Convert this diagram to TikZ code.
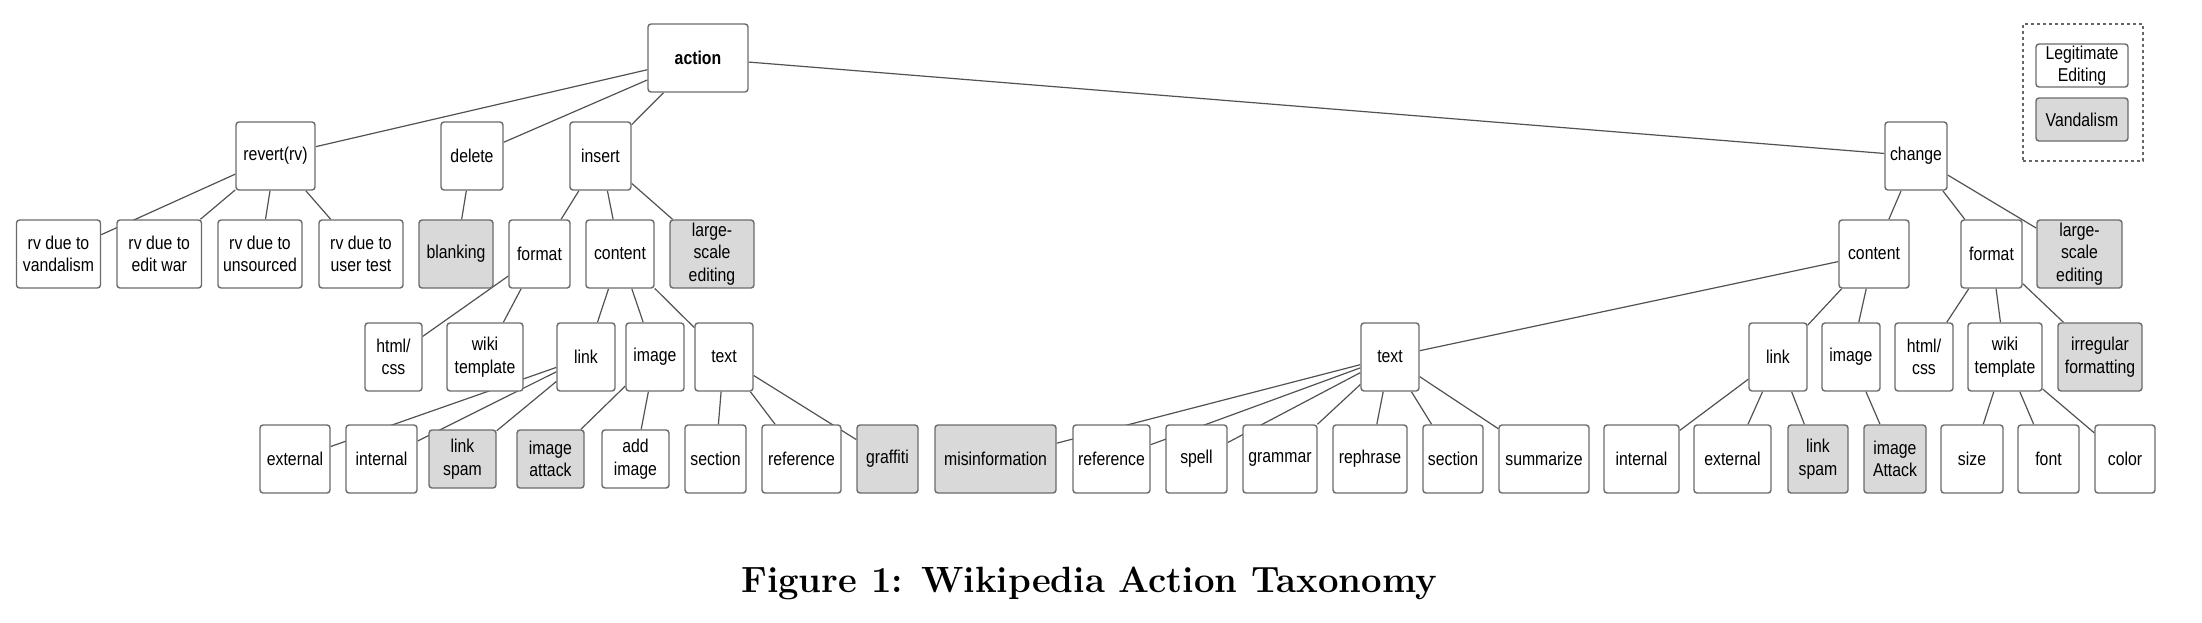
\documentclass[tikz,border=0pt]{standalone}
\usepackage{fontspec}
\newfontfamily\nodefont[FakeStretch=0.85]{Liberation Sans}
\usetikzlibrary{backgrounds}
\newcommand\tbox[7]{\node[#1, minimum width={(#4-#3)*0.5pt}, minimum height={(#6-#5)*0.5pt}] (#2) at ({(#3+#4)/2},{(#5+#6)/2}) {#7};}
\begin{document}
\begin{tikzpicture}[x=0.5pt,y=-0.5pt,
  box/.style={draw=black!58, line width=0.7pt, rounded corners=1.5pt, fill=white, inner sep=0pt, align=center,
    font=\nodefont\fontsize{9.3}{11.3}\selectfont},
  vbox/.style={box, fill=black!15},
  edge/.style={draw=black!68, line width=0.6pt},
  legendframe/.style={draw=black!60, line width=0.6pt, dash pattern=on 1.6pt off 1.4pt, inner sep=0pt}]
\useasboundingbox (0,0) rectangle (2202,622);
% level 0
\tbox{box,font=\nodefont\fontsize{9.3}{11.3}\selectfont\bfseries}{action}{648}{748}{24}{92}{action}
% level 1
\tbox{box}{revert}{236}{315}{122}{190}{revert(rv)}
\tbox{box}{delete}{441}{503}{122}{190}{delete}
\tbox{box}{insert}{570}{631}{122}{190}{insert}
\tbox{box}{change}{1885}{1947}{122}{190}{change}
% level 2
\tbox{box}{rvvand}{16.5}{100.5}{220}{288}{rv due to\\vandalism}
\tbox{box}{rvedit}{117}{201.5}{220}{288}{rv due to\\edit war}
\tbox{box}{rvuns}{218}{302}{220}{288}{rv due to\\unsourced}
\tbox{box}{rvuser}{319}{403}{220}{288}{rv due to\\user test}
\tbox{vbox}{blanking}{419}{493}{220}{288}{blanking}
\tbox{box}{format}{509}{570}{220}{288}{format}
\tbox{box}{content}{586}{654}{220}{288}{content}
\tbox{vbox}{lse}{670}{754}{220}{288}{large-\\scale\\editing}
\tbox{box}{contentB}{1839}{1909}{220}{288}{content}
\tbox{box}{formatB}{1961}{2022}{220}{288}{format}
\tbox{vbox}{lseB}{2037}{2122}{220}{288}{large-\\scale\\editing}
% level 3
\tbox{box}{html}{365}{422}{323}{391}{html/\\css}
\tbox{box}{wiki}{447}{523}{323}{391}{wiki\\template}
\tbox{box}{link}{557}{615}{323}{391}{link}
\tbox{box}{image}{626}{684}{323}{391}{image}
\tbox{box}{text}{695}{753}{323}{391}{text}
\tbox{box}{textB}{1361}{1419}{323}{391}{text}
\tbox{box}{linkB}{1749}{1807}{323}{391}{link}
\tbox{box}{imageB}{1822}{1880}{323}{391}{image}
\tbox{box}{htmlB}{1895}{1953}{323}{391}{html/\\css}
\tbox{box}{wikiB}{1968}{2042}{323}{391}{wiki\\template}
\tbox{vbox}{irreg}{2058}{2142}{323}{391}{irregular\\formatting}
% level 4
\tbox{box}{external}{260}{330}{425}{493}{external}
\tbox{box}{internal}{346}{417}{425}{493}{internal}
\tbox{vbox}{linkspam}{429}{496}{430}{488}{link\\spam}
\tbox{vbox}{imgattack}{517}{584}{430}{488}{image\\attack}
\tbox{box}{addimage}{602}{669}{430}{488}{add\\image}
\tbox{box}{section}{685}{746}{425}{493}{section}
\tbox{box}{reference}{762}{841}{425}{493}{reference}
\tbox{vbox}{graffiti}{857}{918}{425}{493}{graffiti}
\tbox{vbox}{misinfo}{935}{1056}{425}{493}{misinformation}
\tbox{box}{referenceB}{1073}{1150}{425}{493}{reference}
\tbox{box}{spell}{1166}{1227}{425}{493}{spell}
\tbox{box}{grammar}{1243}{1317}{425}{493}{grammar}
\tbox{box}{rephrase}{1333}{1407}{425}{493}{rephrase}
\tbox{box}{sectionB}{1423}{1483}{425}{493}{section}
\tbox{box}{summarize}{1499}{1589}{425}{493}{summarize}
\tbox{box}{internalB}{1604}{1679}{425}{493}{internal}
\tbox{box}{externalB}{1694}{1771}{425}{493}{external}
\tbox{vbox}{linkspamB}{1788}{1848}{425}{493}{link\\spam}
\tbox{vbox}{imgattackB}{1864}{1926}{425}{493}{image\\Attack}
\tbox{box}{size}{1941}{2003}{425}{493}{size}
\tbox{box}{font}{2018}{2079}{425}{493}{font}
\tbox{box}{color}{2095}{2155}{425}{493}{color}
% legend
\tbox{legendframe}{legend}{2023}{2143}{24}{161}{}
\tbox{box}{legit}{2036}{2128}{44}{87}{Legitimate\\Editing}
\tbox{vbox}{vandal}{2036}{2128}{98}{141}{Vandalism}
% caption
\node[anchor=base, inner sep=0pt, font=\fontsize{18.25}{22}\selectfont\bfseries] (caption) at (1089,592) {Figure 1: Wikipedia Action Taxonomy};
% edges
\begin{pgfonlayer}{background}
\foreach \p/\c in {action/revert, action/delete, action/insert, action/change,
  revert/rvvand, revert/rvedit, revert/rvuns, revert/rvuser,
  delete/blanking, insert/format, insert/content, insert/lse,
  format/html, format/wiki, content/link, content/image, content/text,
  link/external, link/internal, link/linkspam, image/imgattack, image/addimage,
  text/section, text/reference, text/graffiti,
  change/contentB, change/formatB, change/lseB,
  contentB/textB, contentB/linkB, contentB/imageB,
  textB/misinfo, textB/referenceB, textB/spell, textB/grammar, textB/rephrase, textB/sectionB, textB/summarize,
  linkB/internalB, linkB/externalB, linkB/linkspamB, imageB/imgattackB,
  formatB/htmlB, formatB/wikiB, formatB/irreg,
  wikiB/size, wikiB/font, wikiB/color}
  \draw[edge] (\p) -- (\c);
\end{pgfonlayer}
\end{tikzpicture}
\end{document}
